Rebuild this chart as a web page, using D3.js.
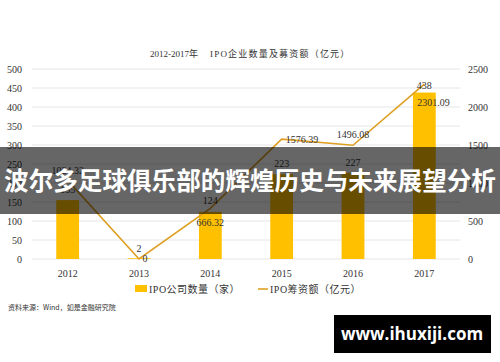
<!DOCTYPE html>
<html>
<head>
<meta charset="utf-8">
<script src="https://cdn.jsdelivr.net/npm/d3@7"></script>
<style>
  body { margin: 0; background: #fff; }
  svg { display: block; }
</style>
</head>
<body>
<div id="chart"></div>
<script>
// chart data
const years = ["2012", "2013", "2014", "2015", "2016", "2017"];
const ipoCount = [155, 2, 124, 223, 227, 438];
const ipoFunds = [1034.32, 0, 666.32, 1576.39, 1496.08, 2301.09];
const leftTicks = [0, 50, 100, 150, 200, 250, 300, 350, 400, 450, 500];
const rightTicks = [0, 500, 1000, 1500, 2000, 2500];

const W = 500, H = 362;
const margin = { top: 69, right: 40, bottom: 103, left: 32 },
  width = W - margin.left - margin.right,
  height = H - margin.top - margin.bottom;

const serif = "'Liberation Serif', 'Noto Sans CJK SC', serif";
const cjk = "'Noto Sans CJK SC', sans-serif";

const svg = d3.select("#chart").append("svg")
  .attr("width", W).attr("height", H);

const g = svg.append("g")
  .attr("transform", `translate(${margin.left},${margin.top})`);

const x = d3.scaleBand().domain(years).range([0, width]).paddingInner(0.68).paddingOuter(0.34);
const yL = d3.scaleLinear().domain([0, 500]).range([height, 0]);
const yR = d3.scaleLinear().domain([0, 2500]).range([height, 0]);

// gridlines
g.selectAll(".grid").data(leftTicks).join("line")
  .attr("x1", 0).attr("x2", width)
  .attr("y1", d => yL(d)).attr("y2", d => yL(d))
  .attr("stroke", "#e6e6e6").attr("stroke-width", 1);

// left axis
const axL = g.append("g").call(d3.axisLeft(yL).tickValues(leftTicks).tickSize(0).tickPadding(10));
axL.select(".domain").remove();
axL.selectAll("text").attr("font-family", serif).attr("font-size", 10).attr("fill", "#333");

// right axis
const axR = g.append("g").attr("transform", `translate(${width},0)`)
  .call(d3.axisRight(yR).tickValues(rightTicks).tickFormat(d3.format("d")).tickSize(0).tickPadding(8));
axR.select(".domain").remove();
axR.selectAll("text").attr("font-family", serif).attr("font-size", 10).attr("fill", "#333");

// bottom axis
const axB = g.append("g").attr("transform", `translate(0,${height})`)
  .call(d3.axisBottom(x).tickSize(0).tickPadding(11));
axB.select(".domain").remove();
axB.selectAll("text").attr("font-family", serif).attr("font-size", 10).attr("fill", "#333");

// bars
g.selectAll(".bar").data(years).join("rect")
  .attr("x", d => x(d))
  .attr("width", x.bandwidth())
  .attr("y", (d, i) => yL(ipoCount[i]))
  .attr("height", (d, i) => height - yL(ipoCount[i]))
  .attr("fill", "#FFC000");

// line
const pts = years.map((d, i) => [x(d) + x.bandwidth() / 2, yR(ipoFunds[i])]);
g.append("path")
  .attr("d", d3.line()(pts))
  .attr("fill", "none")
  .attr("stroke", "#DE9F22")
  .attr("stroke-width", 1.6);

// bar labels
const barDy = [-7, -6, -8, -7, -7, -4];
g.selectAll(".blab").data(years).join("text")
  .attr("x", d => x(d) + x.bandwidth() / 2)
  .attr("y", (d, i) => yL(ipoCount[i]) + barDy[i])
  .attr("text-anchor", "middle")
  .attr("font-family", serif).attr("font-size", 10).attr("fill", "#333")
  .text((d, i) => ipoCount[i]);

// line labels
const lineOff = [[0, -6, "middle"], [6, 3, "middle"], [0, 18, "middle"], [4, 4, "start"], [0, -7, "middle"], [-7, 22, "start"]];
g.selectAll(".llab").data(years).join("text")
  .attr("x", (d, i) => pts[i][0] + lineOff[i][0])
  .attr("y", (d, i) => pts[i][1] + lineOff[i][1])
  .attr("text-anchor", (d, i) => lineOff[i][2])
  .attr("font-family", serif).attr("font-size", 10).attr("fill", "#333")
  .text((d, i) => ipoFunds[i] === 0 ? "0" : ipoFunds[i].toFixed(2));

// title
const title = svg.append("text")
  .attr("x", 150).attr("y", 57)
  .attr("font-family", serif).attr("font-size", 9).attr("fill", "#333");
title.append("tspan").text("2012-2017年");
title.append("tspan").attr("x", 210).attr("letter-spacing", 1.2).text("IPO企业数量及募资额（亿元）");

// legend
const leg = svg.append("g").attr("transform", "translate(135,289)");
leg.append("rect").attr("x", 0).attr("y", -4).attr("width", 12).attr("height", 7).attr("fill", "#FFC000");
leg.append("text").attr("x", 14).attr("y", 4)
  .attr("font-family", serif).attr("font-size", 10).attr("fill", "#333").attr("letter-spacing", 0.5)
  .text("IPO公司数量（家）");
leg.append("line").attr("x1", 123).attr("x2", 133).attr("y1", 0).attr("y2", 0)
  .attr("stroke", "#DE9F22").attr("stroke-width", 1.6);
leg.append("text").attr("x", 135).attr("y", 4)
  .attr("font-family", serif).attr("font-size", 10).attr("fill", "#333").attr("letter-spacing", 0.5)
  .text("IPO筹资额（亿元）");

// source note
svg.append("text")
  .attr("x", 8).attr("y", 310)
  .attr("font-family", cjk).attr("font-size", 7).attr("fill", "#333")
  .text("资料来源：Wind，如是金融研究院");

// overlay banner
svg.append("rect")
  .attr("x", 0).attr("y", 147).attr("width", W).attr("height", 67)
  .attr("fill", "rgba(0,0,0,0.6)");
svg.append("text")
  .attr("x", W / 2).attr("y", 190)
  .attr("text-anchor", "middle")
  .attr("font-family", cjk).attr("font-weight", "bold").attr("font-size", 24.6)
  .attr("fill", "#fff")
  .text("波尔多足球俱乐部的辉煌历史与未来展望分析");

// watermark
svg.append("rect")
  .attr("x", 334).attr("y", 315).attr("width", 157).attr("height", 38)
  .attr("fill", "#000");
svg.append("text")
  .attr("x", 412).attr("y", 340)
  .attr("text-anchor", "middle")
  .attr("font-family", "'Open Sans', 'DejaVu Sans', sans-serif").attr("font-weight", "bold").attr("font-size", 17)
  .attr("fill", "#fff")
  .text("www.ihuxiji.com");
</script>
</body>
</html>
